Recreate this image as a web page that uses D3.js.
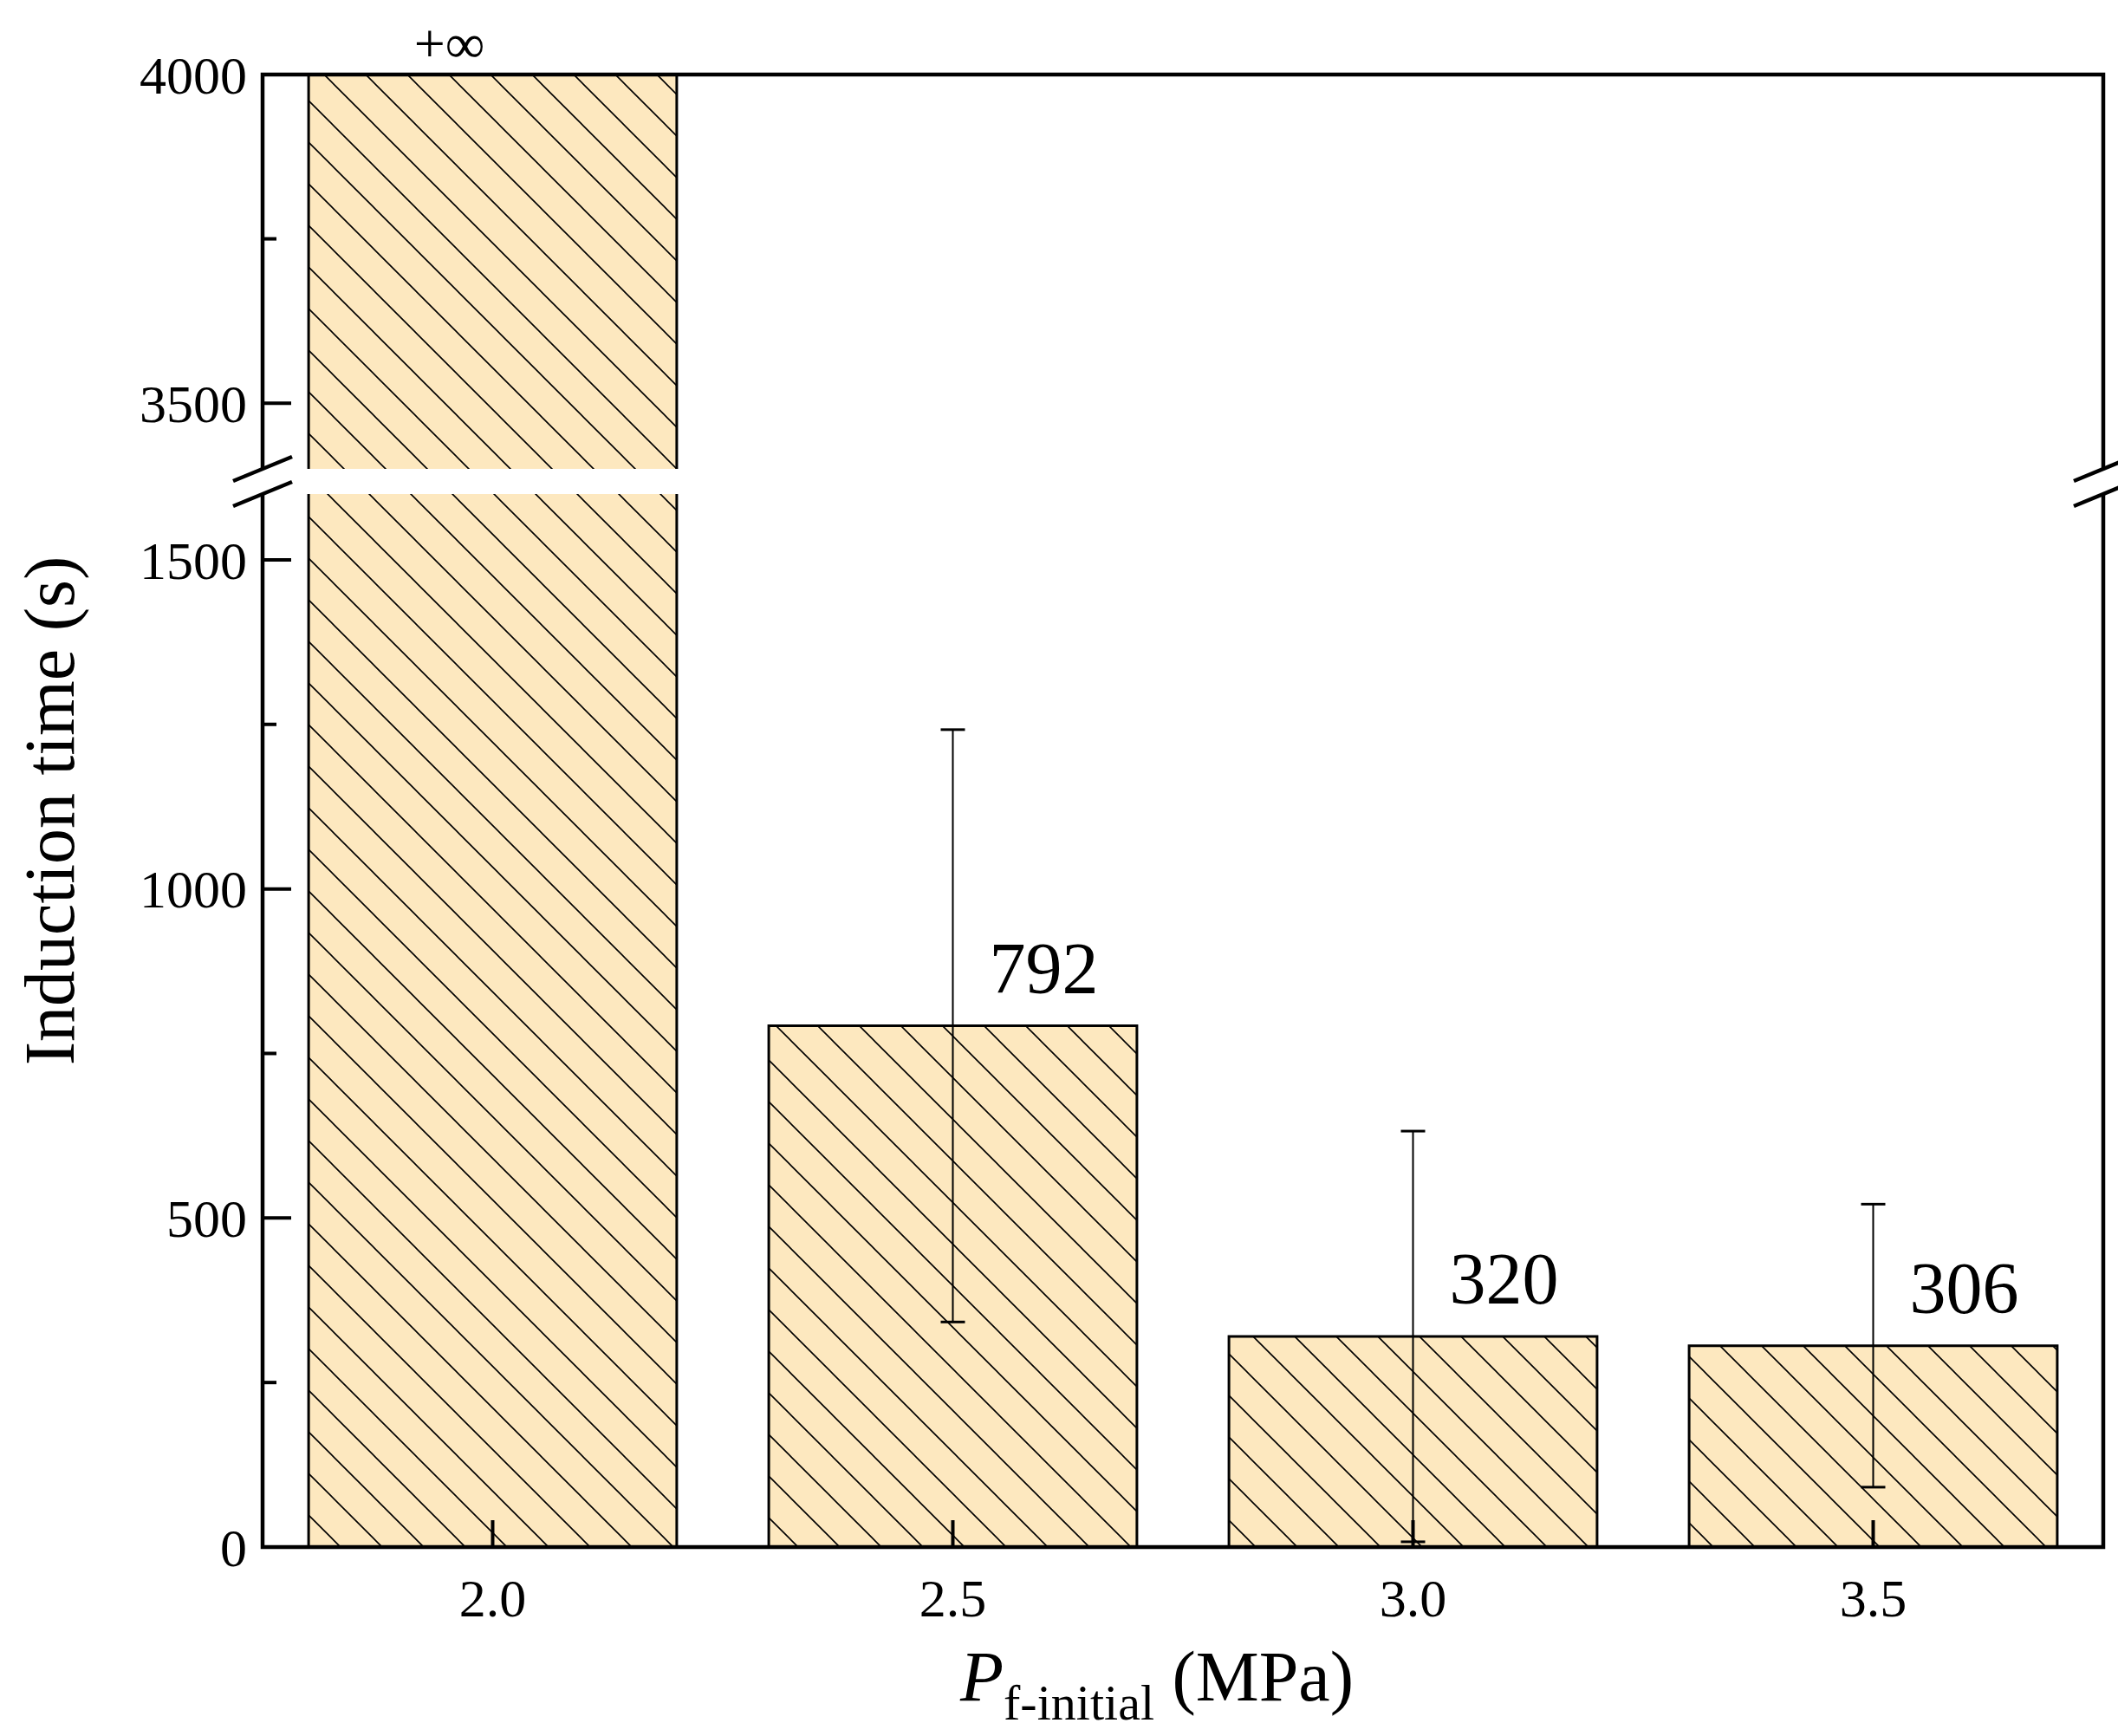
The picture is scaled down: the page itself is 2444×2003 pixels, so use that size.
<!DOCTYPE html>
<html>
<head>
<meta charset="utf-8">
<script src="https://cdn.jsdelivr.net/npm/d3@7"></script>
<style>
  body { margin: 0; background: #fff; }
  text { font-family: "Liberation Serif", "Times New Roman", serif; fill: #000; }
</style>
</head>
<body>
<div id="chart"></div>
<script>
// data
const pressures = [2.0, 2.5, 3.0, 3.5];
const inductionTime = [Infinity, 792, 320, 306];
const errorHalf = [null, 450, 312, 215];
const valueLabels = ["+\u221e", "792", "320", "306"];
const xTicks = [2.0, 2.5, 3.0, 3.5];
const yTicksLow = [0, 500, 1000, 1500];
const yMinorLow = [250, 750, 1250];
const yTicksHigh = [3500, 4000];
const yMinorHigh = [3750];

const W = 2444, H = 2003;
const pLeft = 303, pRight = 2427, pTop = 86, pBottom = 1785;
const breakTop = 541, breakBottom = 570;

const x = d3.scaleLinear().domain([1.75, 3.75]).range([pLeft, pRight]);
const yLow = d3.scaleLinear().domain([0, 1600]).range([pBottom, breakBottom]);
const yHigh = d3.scaleLinear().domain([3400, 4000]).range([breakTop, pTop]);
const barW = x(2.2) - x(1.8);

const svg = d3.select('#chart').append('svg')
  .attr('width', W).attr('height', H);

const defs = svg.append('defs');
const pat = defs.append('pattern')
  .attr('id', 'hatch').attr('patternUnits', 'userSpaceOnUse')
  .attr('width', 48).attr('height', 48);
pat.append('rect').attr('width', 48).attr('height', 48).attr('fill', '#fde8bf');
pat.append('path').attr('d', 'M-12,-12 L60,60 M-12,36 L12,60 M36,-12 L60,12')
  .attr('stroke', '#000').attr('stroke-width', 1.6);

// bars, drawn in each segment
function drawBars(g, y, lo, hi) {
  pressures.forEach((p, i) => {
    const v = Math.min(inductionTime[i], hi);
    if (v <= lo) return;
    const y0 = y(Math.max(0, lo)), y1 = y(v);
    g.append('rect')
      .attr('x', x(p) - barW / 2).attr('y', y1)
      .attr('width', barW).attr('height', y0 - y1)
      .attr('fill', 'url(#hatch)');
    const xl = x(p) - barW / 2, xr = x(p) + barW / 2;
    let d = `M${xl},${y0} L${xl},${y1}`;
    if (inductionTime[i] <= hi) d += ` L${xr},${y1}`; else d += ` M${xr},${y1}`;
    d += ` L${xr},${y0}`;
    g.append('path').attr('d', d).attr('fill', 'none')
      .attr('stroke', '#000').attr('stroke-width', 3);
  });
}
drawBars(svg.append('g'), yLow, 0, 1600);
drawBars(svg.append('g'), yHigh, 3400, 4000);

// error bars
pressures.forEach((p, i) => {
  if (errorHalf[i] == null) return;
  const hiV = inductionTime[i] + errorHalf[i], loV = inductionTime[i] - errorHalf[i];
  const g = svg.append('g').attr('stroke', '#000');
  g.append('line').attr('x1', x(p)).attr('x2', x(p))
    .attr('y1', yLow(hiV)).attr('y2', yLow(loV)).attr('stroke-width', 2);
  [hiV, loV].forEach(v => g.append('line')
    .attr('x1', x(p) - 14).attr('x2', x(p) + 14)
    .attr('y1', yLow(v)).attr('y2', yLow(v)).attr('stroke-width', 3));
});

// value labels
pressures.forEach((p, i) => {
  if (i === 0) {
    svg.append('text').attr('x', x(p) - 50).attr('y', 72)
      .attr('text-anchor', 'middle').attr('font-size', 64).text(valueLabels[i]);
  } else {
    svg.append('text').attr('x', x(p) + 105).attr('y', yLow(inductionTime[i]) - 38)
      .attr('text-anchor', 'middle').attr('font-size', 84).text(valueLabels[i]);
  }
});

// frame
const frame = svg.append('g').attr('stroke', '#000').attr('stroke-width', 4.5).attr('fill', 'none');
frame.append('path').attr('d', `M${pLeft},${breakTop} L${pLeft},${pTop} L${pRight},${pTop} L${pRight},${breakTop}`);
frame.append('path').attr('d', `M${pLeft},${breakBottom} L${pLeft},${pBottom} L${pRight},${pBottom} L${pRight},${breakBottom}`);

// break marks
[pLeft, pRight].forEach(xx => {
  [breakTop, breakBottom].forEach(yy => {
    svg.append('line').attr('x1', xx - 34).attr('x2', xx + 34)
      .attr('y1', yy + 14).attr('y2', yy - 14)
      .attr('stroke', '#000').attr('stroke-width', 4.5);
  });
});

// y ticks
function yAxisTicks(y, major, minor) {
  major.forEach(v => {
    svg.append('line').attr('x1', pLeft).attr('x2', pLeft + 33)
      .attr('y1', y(v)).attr('y2', y(v)).attr('stroke', '#000').attr('stroke-width', 4);
    svg.append('text').attr('x', pLeft - 18).attr('y', y(v)).attr('dy', '0.35em')
      .attr('text-anchor', 'end').attr('font-size', 62).text(v);
  });
  minor.forEach(v => {
    svg.append('line').attr('x1', pLeft).attr('x2', pLeft + 16)
      .attr('y1', y(v)).attr('y2', y(v)).attr('stroke', '#000').attr('stroke-width', 4);
  });
}
yAxisTicks(yLow, yTicksLow, yMinorLow);
yAxisTicks(yHigh, yTicksHigh, yMinorHigh);

// x ticks
xTicks.forEach(v => {
  svg.append('line').attr('x1', x(v)).attr('x2', x(v))
    .attr('y1', pBottom).attr('y2', pBottom - 31).attr('stroke', '#000').attr('stroke-width', 4);
  svg.append('text').attr('x', x(v)).attr('y', pBottom + 80)
    .attr('text-anchor', 'middle').attr('font-size', 62).text(d3.format('.1f')(v));
});

// axis titles
svg.append('text')
  .attr('transform', `translate(85, ${(pTop + pBottom) / 2}) rotate(-90)`)
  .attr('text-anchor', 'middle').attr('font-size', 82).text('Induction time (s)');

const xt = svg.append('text').attr('x', (pLeft + pRight) / 2 - 30).attr('y', 1962)
  .attr('text-anchor', 'middle').attr('font-size', 82);
xt.append('tspan').attr('font-style', 'italic').text('P');
xt.append('tspan').attr('font-size', 58).attr('dy', 22).text('f-initial');
xt.append('tspan').attr('dy', -22).text(' (MPa)');
</script>
</body>
</html>
